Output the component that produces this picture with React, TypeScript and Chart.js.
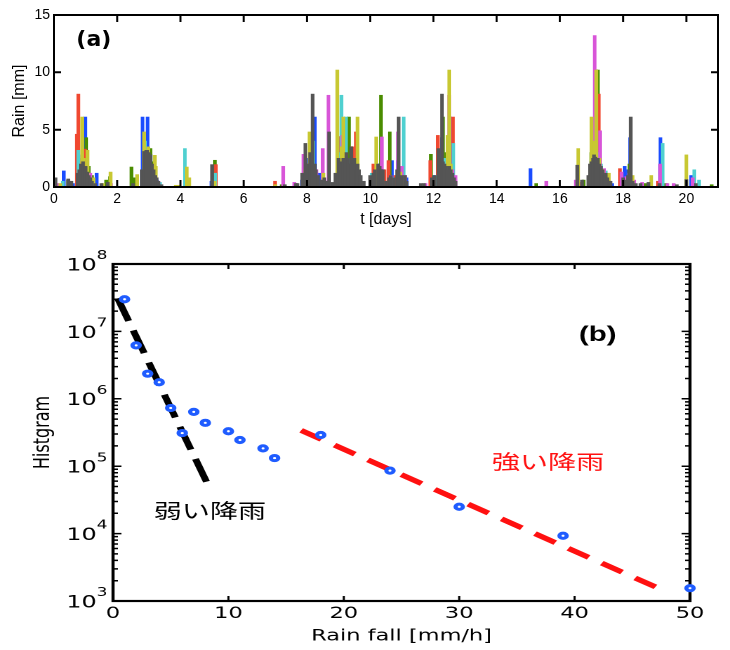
import React, { useEffect, useRef } from 'react';
import { Chart, registerables } from 'chart.js';

Chart.register(...registerables);

type P = [number, number];

// ---------- Panel (a): rain time series per station (t [days], rain [mm]) ----------
const blueRain: P[] = [
  [0.31, 1.4], [0.6, 0.3], [0.82, 2.0], [0.9, 2.8], [0.99, 6.1], [1.08, 1.5], [1.2, 0.8], [1.35, 1.2],
  [2.8, 6.1], [2.96, 6.1], [3.1, 1.5], [3.25, 0.6], [4.98, 0.5], [7.85, 0.6], [8.0, 2.5],
  [8.25, 6.1], [8.4, 1.2], [9.1, 2.0], [9.18, 3.2], [9.3, 2.8], [9.45, 2.5], [9.52, 1.6], [10.3, 2.0], [10.69, 2.3],
  [10.88, 2.3], [11.15, 0.8], [12.0, 1.0], [12.27, 4.3], [12.52, 6.1], [15.07, 1.6],
  [17.05, 2.0], [17.13, 8.0], [17.65, 0.3], [18.05, 1.8], [18.15, 1.5], [18.22, 4.3], [19.18, 4.3], [20.15, 1.0],
];
const greenRain: P[] = [
  [0.45, 0.6], [0.9, 2.5], [1.02, 4.3], [1.1, 1.8], [1.2, 1.0], [1.65, 0.6], [1.77, 0.9],
  [2.45, 1.74], [2.55, 0.8], [2.9, 3.0], [3.05, 3.35], [3.15, 2.2], [3.3, 0.4], [5.09, 2.33],
  [7.2, 0.2], [8.0, 1.5], [8.1, 4.3], [8.3, 1.0], [9.05, 2.5], [9.2, 1.8], [9.33, 6.1], [9.5, 2.5], [10.34, 8.0],
  [10.62, 4.8], [11.92, 2.85], [12.3, 6.1], [12.4, 3.0], [15.25, 0.3], [16.75, 0.6],
  [17.0, 3.0], [17.2, 10.2], [17.45, 1.0], [18.2, 2.0], [18.7, 0.3], [19.35, 0.3], [20.8, 0.2],
];
const redRain: P[] = [
  [0.72, 4.6], [0.77, 8.1], [0.83, 2.2], [0.98, 3.3], [1.12, 1.0], [3.0, 1.5], [3.2, 0.8], [5.12, 1.95],
  [6.99, 0.5], [7.9, 1.7], [8.0, 2.0], [8.15, 1.5], [8.22, 1.2], [9.0, 4.4], [9.2, 3.0], [9.3, 2.0],
  [9.45, 3.5], [9.55, 4.8], [10.1, 2.0], [10.45, 1.5], [10.58, 2.3], [10.8, 1.0], [11.9, 2.3], [12.14, 4.5],
  [12.62, 6.1], [16.6, 0.4], [17.05, 3.5], [17.15, 4.5], [17.23, 8.1], [17.5, 1.0], [17.9, 1.6], [19.1, 0.5],
];
const cyanRain: P[] = [
  [0.28, 0.5], [0.77, 3.2], [0.87, 2.0], [0.95, 1.5], [1.0, 1.0], [2.88, 4.0], [3.0, 2.0], [3.35, 0.4],
  [4.14, 3.35], [5.1, 1.2], [7.92, 1.0], [8.2, 4.0], [9.05, 3.0], [9.09, 8.0], [9.23, 6.1], [9.35, 2.5],
  [9.6, 1.2], [10.05, 1.2], [10.3, 1.0], [10.7, 0.8], [11.06, 6.1], [12.1, 1.0], [12.2, 1.5], [12.35, 2.5],
  [12.45, 2.0], [12.63, 3.8], [17.05, 2.5], [17.1, 5.0], [17.2, 3.0], [17.3, 2.0], [17.45, 1.4],
  [18.05, 0.6], [18.12, 0.8], [19.25, 3.8], [20.25, 1.5], [20.4, 0.6],
];
const magentaRain: P[] = [
  [0.1, 0.3], [0.8, 0.6], [0.93, 1.0], [1.15, 1.2], [1.8, 0.3], [2.92, 2.9], [3.05, 1.5], [3.3, 0.5],
  [4.2, 0.4], [5.05, 0.3], [7.25, 1.8], [7.6, 0.4], [7.89, 2.85], [8.05, 1.0], [8.3, 1.5], [8.5, 3.35],
  [8.68, 8.0], [9.0, 2.0], [9.12, 4.5], [9.25, 2.5], [9.35, 2.0], [9.5, 1.6], [10.25, 1.5], [10.37, 4.36],
  [10.65, 1.0], [10.88, 4.8], [11.0, 1.8], [11.1, 1.0], [11.75, 0.3], [12.25, 1.0], [12.5, 8.0],
  [12.6, 1.5], [12.7, 1.0], [15.57, 0.5], [16.5, 0.6], [17.0, 1.5], [17.1, 13.2], [17.27, 4.9],
  [17.35, 1.0], [17.4, 1.6], [17.95, 1.3], [18.1, 0.9], [18.2, 1.2], [18.35, 0.6], [18.6, 0.4],
  [19.17, 2.0], [19.4, 0.3], [19.6, 0.3], [20.2, 0.8],
];
const yellowRain: P[] = [
  [0.2, 0.3], [0.89, 6.1], [0.95, 2.5], [1.06, 3.2], [1.25, 0.8], [1.55, 0.3], [1.79, 1.3], [2.63, 1.08],
  [2.85, 4.8], [2.98, 3.5], [3.19, 2.76], [3.22, 1.8], [3.85, 0.15], [3.95, 0.15], [4.2, 1.74], [4.28, 0.8],
  [5.08, 0.5], [7.0, 0.2], [7.95, 1.5], [8.08, 4.8], [8.52, 1.2], [8.96, 10.2], [9.1, 3.5], [9.15, 6.1],
  [9.4, 2.0], [9.6, 6.1], [10.19, 4.36], [10.95, 1.3], [11.1, 0.5], [12.25, 1.5], [12.45, 4.5],
  [12.5, 10.2], [12.55, 2.0], [16.58, 3.35], [17.0, 6.1], [17.1, 4.0], [17.15, 10.2], [17.25, 2.5],
  [17.35, 1.5], [17.55, 1.2], [18.3, 1.0], [18.89, 1.0], [20.0, 2.8],
];
const grayRain: P[] = [
  [0.05, 0.8], [0.45, 0.7], [0.55, 0.5], [0.75, 1.2], [0.8, 1.5], [0.85, 2.0], [0.92, 2.2], [1.0, 1.8],
  [1.05, 1.3], [1.1, 1.0], [1.15, 0.8], [1.2, 0.5], [1.3, 0.3], [1.5, 0.3], [1.7, 0.4], [2.5, 0.3],
  [2.78, 1.5], [2.85, 3.1], [2.92, 3.2], [2.95, 3.2], [3.0, 3.0], [3.05, 2.8], [3.1, 2.0], [3.15, 1.5],
  [3.2, 1.0], [3.25, 0.8], [3.3, 0.5], [3.4, 0.2], [5.0, 1.95], [7.3, 0.2], [7.65, 0.3], [7.7, 0.3],
  [7.85, 1.2], [7.95, 3.8], [8.05, 2.0], [8.1, 3.0], [8.18, 8.1], [8.25, 2.0], [8.28, 1.5], [8.35, 1.0],
  [8.45, 0.6], [8.55, 0.8], [8.6, 0.5], [8.65, 0.5], [8.7, 4.8], [8.8, 0.4], [8.9, 1.2], [9.0, 2.5],
  [9.05, 2.2], [9.1, 2.0], [9.15, 2.5], [9.2, 2.2], [9.25, 3.0], [9.3, 2.5], [9.35, 2.0], [9.4, 3.5],
  [9.45, 2.0], [9.5, 2.5], [9.55, 1.5], [9.6, 2.0], [9.65, 1.5], [9.7, 1.0], [9.8, 0.5], [10.0, 1.0],
  [10.1, 1.2], [10.15, 1.5], [10.25, 2.0], [10.3, 1.8], [10.35, 1.5], [10.4, 1.5], [10.5, 0.5],
  [10.6, 0.8], [10.65, 1.0], [10.75, 0.8], [10.85, 1.5], [10.9, 6.1], [11.0, 1.0], [11.1, 1.0],
  [11.15, 0.5], [11.6, 0.3], [11.7, 0.3], [11.95, 0.8], [12.0, 0.6], [12.05, 1.0], [12.16, 3.35],
  [12.2, 2.5], [12.27, 8.1], [12.3, 2.2], [12.35, 2.0], [12.4, 1.8], [12.45, 1.5], [12.5, 1.8],
  [12.55, 1.5], [12.6, 1.2], [12.65, 0.8], [12.7, 0.5], [16.55, 1.9], [16.7, 0.6], [16.9, 1.0],
  [16.95, 2.0], [17.0, 2.2], [17.05, 2.5], [17.08, 2.8], [17.12, 2.6], [17.15, 2.5], [17.2, 2.5],
  [17.25, 2.0], [17.3, 1.8], [17.35, 1.5], [17.4, 1.0], [17.45, 1.2], [17.5, 0.8], [17.55, 0.5],
  [17.6, 0.5], [18.0, 0.8], [18.1, 0.6], [18.15, 1.0], [18.2, 1.5], [18.24, 6.1], [18.3, 0.5],
  [18.4, 0.3], [18.55, 0.3], [18.8, 0.4], [19.15, 0.3], [19.7, 0.2], [20.0, 0.65], [20.3, 0.3],
];

const rainSeries = [
  { name: 'st1', color: '#1a4cff', points: blueRain },
  { name: 'st2', color: '#4a8c00', points: greenRain },
  { name: 'st3', color: '#f04830', points: redRain },
  { name: 'st4', color: '#4fd0d0', points: cyanRain },
  { name: 'st5', color: '#d855d8', points: magentaRain },
  { name: 'st6', color: '#c8c832', points: yellowRain },
  { name: 'st7', color: '#555555', points: grayRain },
];

// ---------- Panel (b): histogram of rain fall ----------
const histX = [1, 2, 3, 4, 5, 6, 7, 8, 10, 11, 13, 14, 18, 24, 30, 39, 50];
const histY = [3.0e7, 6.2e6, 2.36e6, 1.76e6, 7.3e5, 3.1e5, 6.4e5, 4.4e5, 3.3e5, 2.45e5, 1.84e5, 1.32e5, 2.9e5, 8.6e4, 2.5e4, 9.3e3, 1.55e3];
const weakFitX = [0.4, 8.3];
const weakFitY = [3.1e7, 5.0e4];
const strongFitX = [16.3, 47.6];
const strongFitY = [3.4e5, 1.46e3];
const histYExponents = [3, 4, 5, 6, 7, 8];

const SANS = '"Liberation Sans", Arial, sans-serif';
const DEJAVU = '"DejaVu Sans", sans-serif';
const CJK = '"Noto Sans CJK JP", sans-serif';

function drawFrame(chart: any, o: any) {
  const { ctx, chartArea } = chart;
  const { left, right, top, bottom } = chartArea;
  const xs = chart.scales.x;
  const ys = chart.scales.y;
  ctx.save();
  ctx.strokeStyle = '#000';
  ctx.lineWidth = o.tickWidth;
  ctx.beginPath();
  for (const t of xs.ticks) {
    const p = xs.getPixelForValue(t.value);
    ctx.moveTo(p, bottom);
    ctx.lineTo(p, bottom - o.xLen);
    ctx.moveTo(p, top);
    ctx.lineTo(p, top + o.xLen);
  }
  const yMarks: { v: number; len: number }[] = [];
  if (o.log) {
    const e0 = Math.round(Math.log10(ys.min));
    const e1 = Math.round(Math.log10(ys.max));
    for (let e = e0; e <= e1; e++) {
      yMarks.push({ v: Math.pow(10, e), len: o.yLen });
      if (e < e1) for (let m = 2; m <= 9; m++) yMarks.push({ v: m * Math.pow(10, e), len: o.yMinorLen });
    }
  } else {
    for (const t of ys.ticks) yMarks.push({ v: t.value, len: o.yLen });
  }
  for (const m of yMarks) {
    const p = ys.getPixelForValue(m.v);
    ctx.moveTo(left, p);
    ctx.lineTo(left + m.len, p);
    ctx.moveTo(right, p);
    ctx.lineTo(right - m.len, p);
  }
  ctx.stroke();
  ctx.lineWidth = o.frameWidth;
  ctx.strokeRect(left, top, right - left, bottom - top);
  ctx.restore();
}

const frameTicks = {
  id: 'frameTicks',
  beforeDatasetsDraw(chart: any, _a: any, opts: any) {
    if (!opts.onTop) drawFrame(chart, opts);
  },
  afterDatasetsDraw(chart: any, _a: any, opts: any) {
    if (opts.onTop) drawFrame(chart, opts);
  },
};

const textMarks = {
  id: 'textMarks',
  afterDraw(chart: any, _a: any, opts: any) {
    const { ctx } = chart;
    ctx.save();
    for (const it of opts.items || []) {
      const px = chart.scales.x.getPixelForValue(it.x);
      const py = chart.scales.y.getPixelForValue(it.y);
      ctx.font = it.font;
      ctx.fillStyle = it.color;
      ctx.textAlign = 'center';
      ctx.textBaseline = 'middle';
      ctx.fillText(it.text, px, py);
    }
    ctx.restore();
  },
};

// power-of-ten tick labels with a raised exponent, placed by the y scale
const powerLabels = {
  id: 'powerLabels',
  afterDraw(chart: any, _a: any, opts: any) {
    const { ctx, chartArea } = chart;
    const ys = chart.scales.y;
    if (!opts.exponents) return;
    ctx.save();
    ctx.fillStyle = '#000';
    ctx.textBaseline = 'middle';
    for (const e of opts.exponents) {
      const py = ys.getPixelForValue(Math.pow(10, e));
      const anchor = chartArea.left - opts.gap;
      ctx.font = opts.expFont;
      const ew = ctx.measureText(String(e)).width;
      ctx.textAlign = 'left';
      ctx.fillText(String(e), anchor - ew, py - 8);
      ctx.font = opts.baseFont;
      ctx.textAlign = 'right';
      ctx.fillText('10', anchor - ew, py + 2);
    }
    ctx.restore();
  },
};

function RainChart() {
  const ref = useRef<HTMLCanvasElement>(null);
  useEffect(() => {
    const n = rainSeries.length;
    const chart = new Chart(ref.current as HTMLCanvasElement, {
      type: 'bar',
      data: {
        datasets: rainSeries.map((s, i) => ({
          label: s.name,
          data: s.points.map(([x, y]) => ({ x, y })),
          backgroundColor: s.color,
          borderWidth: 0,
          barThickness: 3,
          grouped: false,
          order: n - 1 - i,
        })),
      } as any,
      options: {
        animation: false,
        responsive: false,
        devicePixelRatio: 1,
        layout: { padding: { left: 0, right: 12, top: 15, bottom: 0 } },
        plugins: {
          legend: { display: false },
          tooltip: { enabled: false },
          frameTicks: { onTop: true, tickWidth: 2, xLen: 7, yLen: 7, frameWidth: 2 },
          textMarks: {
            items: [{ x: 1.26, y: 12.8, text: '(a)', font: `bold 22px ${DEJAVU}`, color: '#000' }],
          },
        } as any,
        scales: {
          x: {
            type: 'linear',
            min: 0,
            max: 21,
            offset: false,
            grid: { display: false, drawTicks: false },
            border: { display: false },
            ticks: { stepSize: 2, includeBounds: false, padding: 4, color: '#000', font: { family: SANS, size: 14 } },
            title: { display: true, text: 't [days]', color: '#000', font: { family: SANS, size: 16 }, padding: { top: 0, bottom: 6 } },
            afterFit: (s: any) => { s.height = 48; },
          },
          y: {
            min: 0,
            max: 15,
            grid: { display: false, drawTicks: false },
            border: { display: false },
            ticks: { stepSize: 5, padding: 4, color: '#000', font: { family: SANS, size: 14 } },
            title: { display: true, text: 'Rain [mm]', color: '#000', font: { family: SANS, size: 16 }, padding: { top: 10, bottom: 0 } },
            afterFit: (s: any) => { s.width = 54; },
          },
        } as any,
      },
      plugins: [frameTicks, textMarks] as any,
    });
    return () => chart.destroy();
  }, []);
  return <canvas ref={ref} width={730} height={235} style={{ display: 'block', width: '730px', height: '235px' }} />;
}

function HistChart() {
  const ref = useRef<HTMLCanvasElement>(null);
  useEffect(() => {
    const chart = new Chart(ref.current as HTMLCanvasElement, {
      type: 'scatter',
      data: {
        datasets: [
          {
            label: 'Histgram',
            data: histX.map((x, i) => ({ x, y: histY[i] })),
            pointStyle: 'circle',
            pointRadius: 2.6,
            pointBorderWidth: 3,
            pointBorderColor: '#1f5cff',
            pointBackgroundColor: '#ffffff',
            borderColor: '#1f5cff',
            backgroundColor: '#ffffff',
            clip: false,
            order: 0,
          },
          {
            label: '弱い降雨',
            type: 'line',
            data: weakFitX.map((x, i) => ({ x, y: weakFitY[i] })),
            borderColor: '#000000',
            borderWidth: 5,
            borderDash: [24, 10],
            borderCapStyle: 'butt',
            pointRadius: 0,
            fill: false,
            order: 1,
          },
          {
            label: '強い降雨',
            type: 'line',
            data: strongFitX.map((x, i) => ({ x, y: strongFitY[i] })),
            borderColor: '#ff1010',
            borderWidth: 5,
            borderDash: [17, 11],
            borderCapStyle: 'butt',
            pointRadius: 0,
            fill: false,
            order: 2,
          },
        ],
      } as any,
      options: {
        animation: false,
        responsive: false,
        devicePixelRatio: 2,
        layout: { padding: { left: 0, right: 28.5, top: 29, bottom: 0 } },
        plugins: {
          legend: { display: false },
          tooltip: { enabled: false },
          frameTicks: { onTop: false, log: true, tickWidth: 1.5, xLen: 5, yLen: 6, yMinorLen: 3.5, frameWidth: 2.2 },
          powerLabels: { exponents: histYExponents, gap: 4, baseFont: `17px ${DEJAVU}`, expFont: `12px ${DEJAVU}` },
          textMarks: {
            items: [
              { x: 8.4, y: 2.2e4, text: '弱い降雨', font: `20px ${CJK}`, color: '#000' },
              { x: 37.7, y: 1.17e5, text: '強い降雨', font: `20px ${CJK}`, color: '#ff1010' },
              { x: 42.0, y: 8.85e6, text: '(b)', font: `bold 21px ${SANS}`, color: '#000' },
            ],
          },
        } as any,
        scales: {
          x: {
            type: 'linear',
            min: 0,
            max: 50,
            grid: { display: false, drawTicks: false },
            border: { display: false },
            ticks: { stepSize: 10, padding: 3, color: '#000', font: { family: DEJAVU, size: 16 } },
            title: { display: true, text: 'Rain fall [mm/h]', color: '#000', font: { family: DEJAVU, size: 16 }, padding: { top: 0, bottom: 4 } },
            afterFit: (s: any) => { s.height = 49; },
          },
          y: {
            type: 'logarithmic',
            min: 1e3,
            max: 1e8,
            grid: { display: false, drawTicks: false },
            border: { display: false },
            ticks: { display: false },
            title: { display: true, text: 'Histgram', color: '#000', font: { family: DEJAVU, size: 16 }, padding: { top: 21, bottom: 0 } },
            afterFit: (s: any) => { s.width = 80.5; },
          },
        } as any,
      },
      plugins: [frameTicks, textMarks, powerLabels] as any,
    });
    return () => chart.destroy();
  }, []);
  return <canvas ref={ref} width={520} height={415} style={{ display: 'block', width: '730px', height: '415px' }} />;
}

export default function App() {
  return (
    <div style={{ position: 'absolute', left: 0, top: 0, width: 730, height: 650, background: '#ffffff' }}>
      <div style={{ position: 'absolute', left: 0, top: 0 }}>
        <RainChart />
      </div>
      <div style={{ position: 'absolute', left: 0, top: 235 }}>
        <HistChart />
      </div>
    </div>
  );
}
